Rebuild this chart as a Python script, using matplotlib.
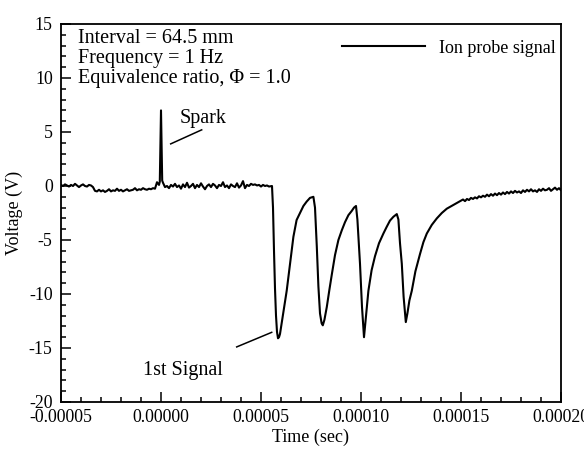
import numpy as np
import matplotlib
matplotlib.use("Agg")
import matplotlib.pyplot as plt
from matplotlib.ticker import MultipleLocator, FormatStrFormatter

plt.rcParams['font.family'] = ['Liberation Serif', 'DejaVu Serif']
plt.rcParams['axes.unicode_minus'] = False

# baseline before the spark, 1 us steps from -50 us
pre_start_us = -50
pre_volts = [0.1, 0.0, 0.15, 0.05, -0.05, 0.1, 0.0, 0.2, 0.05, -0.1,
             0.05, 0.15, 0.0, -0.05, 0.1, 0.05, -0.1,
             -0.45, -0.5, -0.35, -0.5, -0.4, -0.55, -0.45, -0.3, -0.5, -0.4,
             -0.45, -0.25, -0.45, -0.35, -0.5, -0.4, -0.3, -0.45, -0.4, -0.35,
             -0.2, -0.4, -0.3, -0.35, -0.2, -0.3, -0.35, -0.25, -0.3, -0.2,
             -0.25, 0.35, 0.1]

# spark
spark_us = [-0.6, 0.0, 0.6]
spark_volts = [0.4, 7.0, 0.5]

# baseline after the spark, 1 us steps from 1 us
post_start_us = 1
post_volts = [0.3, -0.1, 0.0, -0.2, 0.1, -0.05, 0.2, -0.1, 0.05, -0.25,
              0.15, -0.1, 0.3, -0.15, 0.0, 0.2, -0.2, 0.1, -0.1, 0.25,
              -0.05, -0.3, 0.0, 0.15, -0.1, 0.2, 0.05, -0.2, 0.1, 0.0,
              0.35, -0.1, 0.05, -0.2, 0.15, 0.0, -0.1, 0.25, -0.15, 0.05,
              0.45, -0.2, 0.1, 0.0, 0.2, 0.1, 0.15, 0.05, 0.1, -0.05,
              0.1, 0.0, 0.05, -0.05]

# ion signal pulses
pulse_us = [55.5, 56.0, 56.5, 57.0, 57.5, 58.0, 58.5, 59.0, 59.5, 61.2,
            62.85, 64.5, 66.2, 67.8, 69.5, 71.2, 72.8, 74.5, 76.2, 77.0,
            77.9, 78.7, 79.5, 80.3, 80.9, 81.7, 82.9, 84.2, 85.4, 87.0,
            88.7, 90.4, 92.0, 93.7, 95.4, 96.5, 97.5, 98.2, 99.5, 100.5,
            101.5, 102.3, 103.7, 105.3, 107.0, 109.0, 111.2, 112.8, 114.5, 116.2,
            117.9, 118.7, 119.5, 120.4, 121.3, 122.4, 123.2, 124.2, 125.4, 127.2,
            129.5, 131.2, 132.9, 135.4, 137.9, 140.4, 142.9, 146.2, 149.0]
pulse_volts = [0.0, -2.0, -6.0, -9.5, -12.0, -13.5, -14.1, -14.0, -13.7, -11.7,
               -9.7, -7.2, -4.7, -3.15, -2.5, -1.85, -1.45, -1.1, -1.0, -2.0,
               -5.6, -9.3, -11.8, -12.7, -12.9, -12.4, -11.2, -9.6, -8.2, -6.4,
               -5.0, -4.1, -3.35, -2.7, -2.3, -2.0, -1.85, -3.1, -7.2, -11.2,
               -14.0, -12.4, -9.7, -7.8, -6.5, -5.3, -4.4, -3.8, -3.2, -2.85,
               -2.6, -3.1, -5.3, -7.2, -10.25, -12.6, -11.8, -10.6, -9.7, -7.9,
               -6.3, -5.2, -4.4, -3.6, -3.0, -2.5, -2.1, -1.75, -1.45]

# recovery tail, 1 us steps from 150 us
tail_start_us = 150
tail_volts = [-1.35, -1.25, -1.4, -1.2, -1.3, -1.1, -1.2, -1.05, -1.15, -0.95,
              -1.05, -0.9, -1.0, -0.8, -0.95, -0.75, -0.9, -0.7, -0.85, -0.65,
              -0.8, -0.6, -0.75, -0.55, -0.7, -0.5, -0.65, -0.45, -0.6, -0.5,
              -0.65, -0.4, -0.55, -0.35, -0.5, -0.3, -0.5, -0.4, -0.55, -0.3,
              -0.45, -0.25, -0.4, -0.35, -0.2, -0.45, -0.3, -0.15, -0.35, -0.2,
              -0.4, 0.05]

t_us = np.concatenate([
    pre_start_us + np.arange(len(pre_volts)),
    spark_us,
    post_start_us + np.arange(len(post_volts)),
    pulse_us,
    tail_start_us + np.arange(len(tail_volts)),
])
volts = np.concatenate([pre_volts, spark_volts, post_volts, pulse_volts, tail_volts])
t_sec = t_us * 1e-6

fig = plt.figure(figsize=(5.84, 4.5), dpi=100)
ax = fig.add_axes([61 / 584, 1 - 402 / 450, 500 / 584, 378 / 450])

ax.plot(t_sec, volts, color='black', lw=1.5, label='Ion probe signal')

ax.set_xlim(-0.00005, 0.0002)
ax.set_ylim(-20, 15)
ax.xaxis.set_major_locator(MultipleLocator(0.00005))
ax.xaxis.set_minor_locator(MultipleLocator(0.00001))
ax.xaxis.set_major_formatter(FormatStrFormatter('%.5f'))
ax.yaxis.set_major_locator(MultipleLocator(5))
ax.yaxis.set_minor_locator(MultipleLocator(1))
ax.tick_params(which='both', direction='in', labelsize=12.8, width=1.1)
ax.tick_params(which='major', length=7)
ax.tick_params(which='minor', length=3.6)
ax.tick_params(axis='x', pad=5)
ax.tick_params(axis='y', pad=6)
for s in ax.spines.values():
    s.set_linewidth(1.3)

ax.set_xlabel('Time (sec)', fontsize=13, labelpad=2)
ax.set_ylabel('Voltage (V)', fontsize=13, labelpad=4)

# run info
info = ['Interval = 64.5 mm', 'Frequency = 1 Hz', 'Equivalence ratio, \u03a6 = 1.0']
for i, line in enumerate(info):
    ax.text(0.033, 0.9489 - i * 0.0529, line, transform=ax.transAxes,
            fontsize=14.5, va='baseline', ha='left')

# annotations
ax.plot([4.85e-6, 20.35e-6], [3.9, 5.2], color='black', lw=1.1)
ax.text(9.5e-6, 5.8, 'Spark', fontsize=14.5, va='baseline', ha='left')
ax.plot([37.85e-6, 55.35e-6], [-14.9, -13.55], color='black', lw=1.1)
ax.text(-9.15e-6, -17.5, '1st Signal', fontsize=14.5, va='baseline', ha='left')

ax.legend(loc='center right', bbox_to_anchor=(0.99, 0.9365), frameon=False,
          fontsize=13, handlelength=4.6, handletextpad=0.78,
          borderpad=0, borderaxespad=0)

fig.savefig('out.png', dpi=100)
